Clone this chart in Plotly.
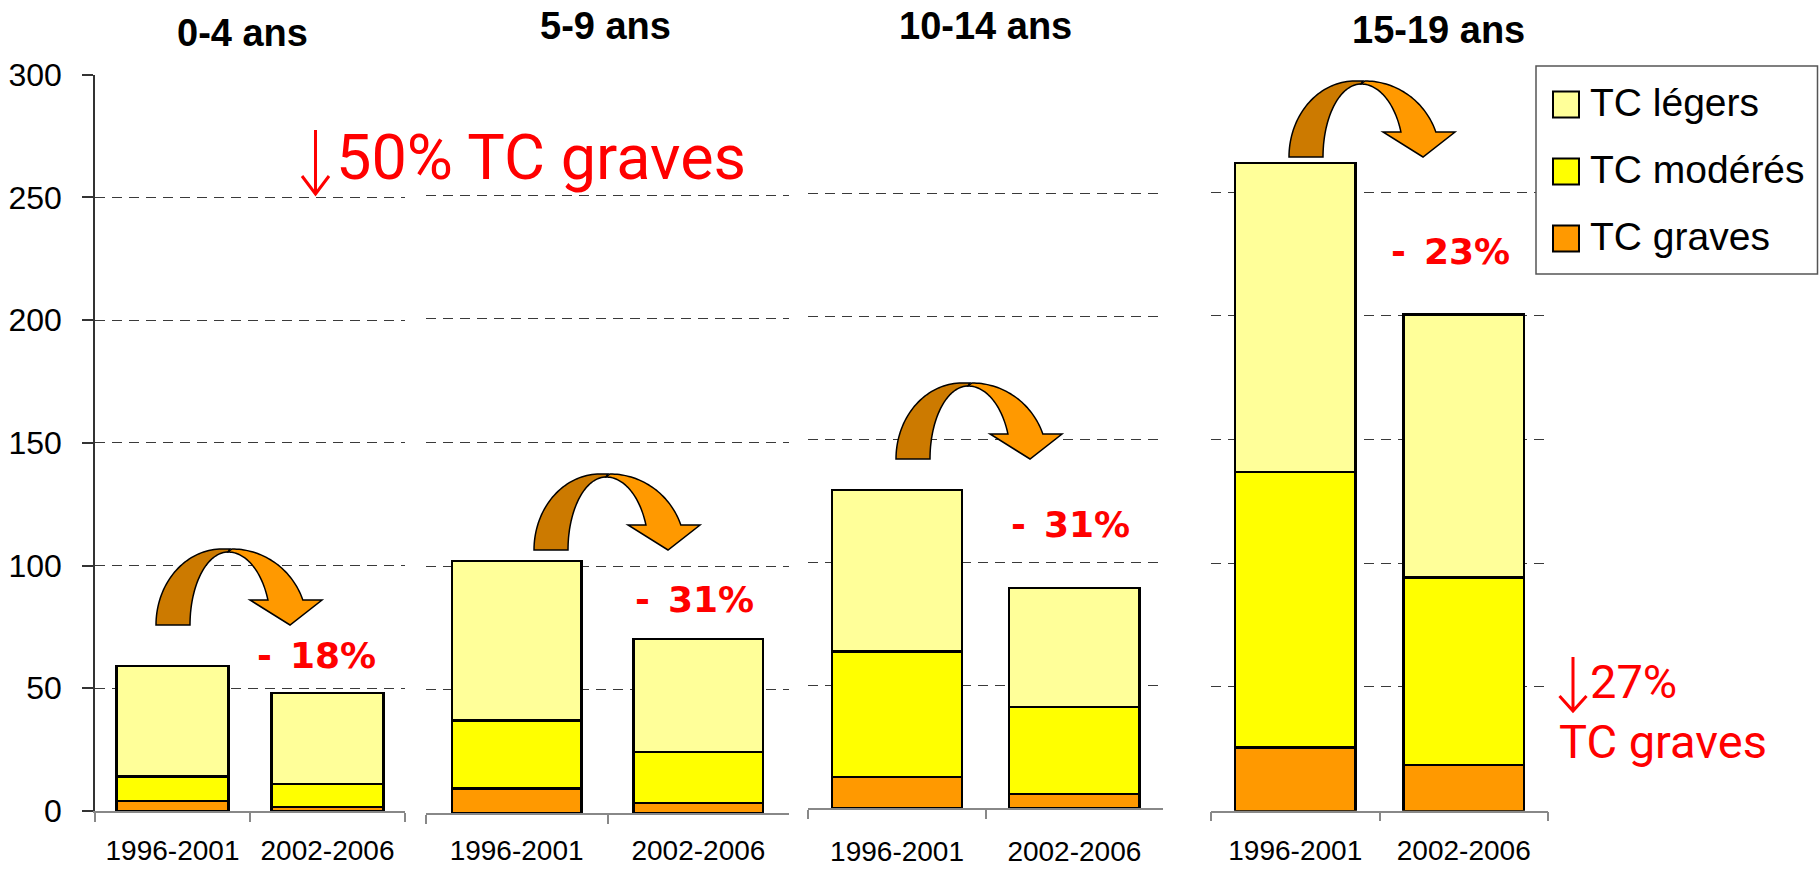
import numpy as np
import plotly.graph_objects as go
from plotly.subplots import make_subplots

# ---------------------------------------------------------------------------
# Data
# ---------------------------------------------------------------------------
periods = ["1996-2001", "2002-2006"]
age_groups = ["0-4 ans", "5-9 ans", "10-14 ans", "15-19 ans"]

tc_graves  = [[4, 1.5], [10, 4.3], [12.6, 5.8], [25.6, 18.6]]
tc_moderes = [[10, 9.5], [27.5, 20.6], [51.1, 35.5], [111.4, 75.6]]
tc_legers  = [[45, 37], [64.5, 45.6], [65.8, 48.2], [124.6, 106.3]]

change_labels = ["- 18%", "- 31%", "- 31%", "- 23%"]
series_names = ["TC légers", "TC modérés", "TC graves"]

# ---------------------------------------------------------------------------
# Style
# ---------------------------------------------------------------------------
W, H = 1819, 869
C_LEGERS = "#FFFF99"
C_MODERES = "#FFFF00"
C_GRAVES = "#FF9900"
C_ARROW_DARK = "#CC7A00"
C_RED = "#FF0000"
FONT = "Liberation Sans, Arial, sans-serif"


def px(x):
    return x / W


def py(y):
    return 1 - y / H


# panel geometry in pixels: x-left, x-right, y of 0, y of 300
panels = [
    (95, 405, 811, 74.7),
    (425.7, 789.3, 813.3, 71.7),
    (808.4, 1163, 808.3, 70.5),
    (1211, 1548, 810.7, 68.3),
]
bar_widths = [0.723, 0.714, 0.735, 0.716]
label_standoff = [14, 11, 17, 14]

fig = make_subplots(rows=1, cols=4)

for i in range(4):
    for vals, col, name in [(tc_graves, C_GRAVES, series_names[2]),
                            (tc_moderes, C_MODERES, series_names[1]),
                            (tc_legers, C_LEGERS, series_names[0])]:
        fig.add_trace(go.Bar(
            x=periods, y=vals[i], name=name,
            width=bar_widths[i],
            marker=dict(color=col, line=dict(color="black", width=2.3)),
            showlegend=False, hoverinfo="skip",
        ), row=1, col=i + 1)

layout_axes = {}
for i, (x0, x1, y0, y300) in enumerate(panels):
    sfx = "" if i == 0 else str(i + 1)
    layout_axes["xaxis" + sfx] = dict(
        domain=[px(x0), px(x1)], automargin=False,
        type="category", range=[-0.5, 1.5],
        tickson="boundaries", ticks="outside", ticklen=9,
        tickcolor="#888888", tickwidth=1.5,
        showline=True, linecolor="#888888", linewidth=1.5,
        showgrid=False, zeroline=False,
        tickfont=dict(family=FONT, size=28, color="black"),
        ticklabelstandoff=label_standoff[i],
    )
    ax = dict(
        domain=[py(y0), py(y300)], automargin=False,
        range=[0, 300], tickvals=[0, 50, 100, 150, 200, 250, 300],
        showgrid=True, gridcolor="#3a3a3a", gridwidth=1,
        griddash="10px,7px", zeroline=False,
    )
    if i == 0:
        ax.update(showline=True, linecolor="#333333", linewidth=1.5,
                  ticks="outside", ticklen=11, tickcolor="#333333",
                  tickwidth=1.5,
                  tickfont=dict(family=FONT, size=32, color="black"),
                  ticklabelstandoff=14)
    else:
        ax.update(showline=False, ticks="", showticklabels=False)
    layout_axes["yaxis" + sfx] = ax

fig.update_layout(**layout_axes)

# ---------------------------------------------------------------------------
# Annotations: titles, percentages, red comments
# ---------------------------------------------------------------------------
annotations = []
title_pos = [(242, 32.5), (605.7, 26), (985, 26), (1438, 30)]
for label, (x, y) in zip(age_groups, title_pos):
    annotations.append(dict(
        x=px(x), y=py(y), xref="paper", yref="paper",
        text=f"<b>{label}</b>", showarrow=False,
        xanchor="center", yanchor="middle",
        font=dict(family=FONT, size=38, color="black"),
    ))

pct_pos = [(316, 655.8), (694, 599), (1070, 524), (1450, 251)]
for label, (x, y) in zip(change_labels, pct_pos):
    annotations.append(dict(
        x=px(x), y=py(y), xref="paper", yref="paper",
        text="<b>" + label.replace(" ", "\u2002") + "</b>", showarrow=False,
        xanchor="center", yanchor="middle",
        font=dict(family="DejaVu Sans", size=36, color=C_RED),
    ))

annotations.append(dict(
    x=px(334), y=py(157.5), xref="paper", yref="paper",
    text="50% TC graves", showarrow=False,
    xanchor="left", yanchor="middle",
    font=dict(family="Roboto", size=63, color=C_RED),
))
annotations.append(dict(
    x=px(1588), y=py(681.7), xref="paper", yref="paper",
    text="27%", showarrow=False,
    xanchor="left", yanchor="middle",
    font=dict(family="Roboto", size=47, color=C_RED),
))
annotations.append(dict(
    x=px(1557), y=py(741.7), xref="paper", yref="paper",
    text="TC graves", showarrow=False,
    xanchor="left", yanchor="middle",
    font=dict(family="Roboto", size=47, color=C_RED),
))

# ---------------------------------------------------------------------------
# Shapes: curved arrows, red down arrows, legend
# ---------------------------------------------------------------------------
shapes = []


def _path(points, close=True):
    s = "M " + " L ".join(f"{px(u):.5f},{py(v):.5f}" for u, v in points)
    return s + (" Z" if close else "")


def curved_arrow(ox, oy):
    t = np.linspace(np.pi, np.pi / 2, 40)
    dark = [(ox + 66 + 66 * np.cos(a), oy + 76 - 76 * np.sin(a)) for a in t]
    dark.append((ox + 74, oy))
    dark.append((ox + 72, oy + 3))
    dark += [(ox + 72 + 38 * np.cos(a), oy + 76 - 73 * np.sin(a)) for a in t[::-1]]

    t_o_end = np.arcsin(25 / 76)
    t_i_end = np.arcsin(25 / 73)
    light = [(ox + 72, oy + 3)]
    light += [(ox + 76 + 75 * np.cos(a), oy + 76 - 76 * np.sin(a))
              for a in np.linspace(np.pi / 2, t_o_end, 40)]
    light += [(ox + 166, oy + 51), (ox + 134, oy + 76), (ox + 94, oy + 51)]
    light += [(ox + 72 + 42.5 * np.cos(a), oy + 76 - 73 * np.sin(a))
              for a in np.linspace(t_i_end, np.pi / 2, 40)]
    for pts, col in [(dark, C_ARROW_DARK), (light, C_GRAVES)]:
        shapes.append(dict(type="path", xref="paper", yref="paper",
                           path=_path(pts), fillcolor=col,
                           line=dict(color="black", width=1.5), layer="above"))


for ox, oy in [(156, 549), (534, 474), (896, 383), (1289, 81)]:
    curved_arrow(ox, oy)


def red_down_arrow(x, ytop, ybot, half_w, head_h):
    path = (_path([(x, ytop), (x, ybot)], close=False) + " "
            + _path([(x - half_w, ybot - head_h), (x, ybot),
                     (x + half_w, ybot - head_h)], close=False))
    shapes.append(dict(type="path", xref="paper", yref="paper", path=path,
                       fillcolor="rgba(0,0,0,0)",
                       line=dict(color=C_RED, width=3), layer="above"))


red_down_arrow(315.5, 130, 194, 13.5, 18)
red_down_arrow(1573, 657, 711, 13.5, 15)

# legend box
shapes.append(dict(type="rect", xref="paper", yref="paper",
                   x0=px(1536), x1=px(1817.5), y0=py(274), y1=py(66),
                   fillcolor="white", line=dict(color="#555555", width=1.5),
                   layer="above"))
for k, (name, col) in enumerate(zip(series_names, [C_LEGERS, C_MODERES, C_GRAVES])):
    cy = 104.5 + k * 67
    shapes.append(dict(type="rect", xref="paper", yref="paper",
                       x0=px(1553), x1=px(1579), y0=py(cy + 13), y1=py(cy - 13),
                       fillcolor=col, line=dict(color="black", width=2),
                       layer="above"))
    annotations.append(dict(
        x=px(1588), y=py(cy - 2), xref="paper", yref="paper",
        text=name, showarrow=False, xanchor="left", yanchor="middle",
        font=dict(family=FONT, size=39, color="black"),
    ))

fig.update_layout(
    width=W, height=H, autosize=False,
    margin=dict(l=0, r=0, t=0, b=0, pad=0, autoexpand=False),
    paper_bgcolor="white", plot_bgcolor="white",
    barmode="stack", bargap=0.28,
    showlegend=False,
    annotations=annotations, shapes=shapes,
)

fig.write_html("out.html", config={"displayModeBar": False},
               post_script="document.body.style.margin='0px';")
